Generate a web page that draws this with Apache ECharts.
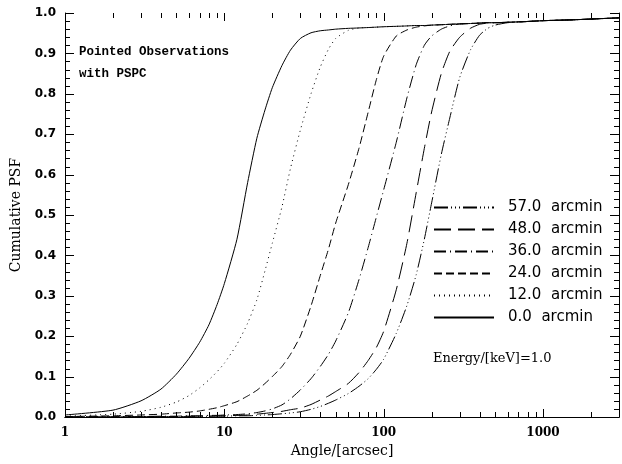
<!DOCTYPE html>
<html>
<head>
<meta charset="utf-8">
<script src="https://cdn.jsdelivr.net/npm/echarts@6/dist/echarts.min.js"></script>
<style>
  html, body { margin: 0; padding: 0; background: #fff; }
  #chart { width: 622px; height: 464px; }
</style>
</head>
<body>
<div id="chart"></div>
<script>
// angle grid in arcsec (shared by all curves)
const angles = [1, 2, 3, 4, 5, 6, 7, 8, 9, 10, 12, 14, 16, 18, 20, 23, 26, 30, 35, 40,
  45, 50, 60, 70, 80, 90, 100, 120, 140, 160, 180, 200, 230, 260, 300, 350, 400, 450,
  500, 600, 800, 1000, 1500, 2000, 3000]

// cumulative PSF per off-axis angle
const psf00 = [.005, .017, .040, .069, .106, .145, .185, .228, .278, .330,
  .440, .580, .690, .760, .815, .870, .908, .937, .951, .956,
  .958, .960, .962, .963, .964, .965, .966, .967, .968, .969,
  .969, .970, .971, .972, .973, .974, .975, .976, .976, .977,
  .979, .981, .983, .985, .988]
const psf12 = [.002, .007, .014, .024, .037, .053, .072, .092, .112, .133,
  .180, .232, .290, .362, .430, .520, .615, .710, .800, .866,
  .910, .937, .957, .963, .964, .965, .966, .967, .968, .969,
  .969, .970, .971, .972, .973, .974, .975, .976, .976, .977,
  .979, .981, .983, .985, .988]
const psf24 = [.001, .003, .005, .007, .010, .012, .015, .019, .023, .028,
  .038, .052, .066, .083, .100, .125, .155, .200, .275, .350,
  .415, .480, .575, .665, .755, .835, .893, .943, .958, .965,
  .968, .970, .971, .972, .973, .974, .975, .976, .976, .977,
  .979, .981, .983, .985, .988]
const psf36 = [.000, .001, .001, .002, .002, .003, .003, .004, .004, .005,
  .006, .008, .011, .015, .020, .030, .045, .067, .095, .125,
  .155, .188, .258, .340, .420, .495, .562, .680, .790, .872,
  .920, .943, .960, .968, .973, .974, .975, .976, .976, .977,
  .979, .981, .983, .985, .988]
const psf48 = [.000, .000, .001, .001, .001, .002, .002, .002, .003, .003,
  .004, .005, .007, .009, .011, .014, .018, .022, .031, .042,
  .052, .063, .083, .110, .140, .172, .212, .315, .430, .555,
  .665, .755, .850, .905, .940, .962, .972, .975, .976, .977,
  .979, .981, .983, .985, .988]
const psf57 = [.000, .000, .000, .001, .001, .001, .001, .002, .002, .002,
  .003, .003, .004, .005, .006, .008, .010, .013, .019, .026,
  .034, .042, .058, .076, .095, .118, .143, .207, .276, .352,
  .440, .530, .650, .740, .840, .908, .945, .962, .970, .976,
  .979, .981, .983, .985, .988]

const offAxis = ['0.0', '12.0', '24.0', '36.0', '48.0', '57.0']
const curves = [psf00, psf12, psf24, psf36, psf48, psf57]
// pgplot-like line styles
const dashes = ['solid', [1, 4], [8, 4], [12, 4, 1, 4], [17, 7], [14, 3, 1, 3, 1, 3, 1, 3]]

// tick values for the frame (drawn on all four sides)
const xTicks = [1, 2, 3, 4, 5, 6, 7, 8, 9, 10, 20, 30, 40, 50, 60, 70, 80, 90,
  100, 200, 300, 400, 500, 600, 700, 800, 900, 1000, 2000, 3000]
const yTicks = [0, .02, .04, .06, .08, .1, .12, .14, .16, .18, .2, .22, .24, .26, .28,
  .3, .32, .34, .36, .38, .4, .42, .44, .46, .48, .5, .52, .54, .56, .58,
  .6, .62, .64, .66, .68, .7, .72, .74, .76, .78, .8, .82, .84, .86, .88,
  .9, .92, .94, .96, .98, 1]

const labelOf = a => a + '  arcmin'

const chart = echarts.init(document.getElementById('chart'), null, { renderer: 'canvas' })

const isDecade = v => Math.abs(Math.log10(v) - Math.round(Math.log10(v))) < 1e-6
const isTenth = v => Math.abs(v * 10 - Math.round(v * 10)) < 1e-6

const lineSeries = curves.map((vals, i) => ({
  name: labelOf(offAxis[i]),
  type: 'line',
  data: angles.map((a, j) => [a, vals[j]]),
  symbol: 'none',
  smooth: 0.2,
  lineStyle: { color: '#000', width: 1, type: dashes[i] },
  itemStyle: { color: '#000' },
  z: 3
}))

const tickStyle = { stroke: '#000', lineWidth: 1 }

// y ticks on left and right, built once from the first item
const yTickLines = api => {
  const out = []
  yTicks.forEach(v => {
    const l = api.coord([1, v])
    const r = api.coord([3000, v])
    const len = isTenth(v) ? 9 : 5
    const y = Math.round(l[1]) + 0.5
    out.push({ type: 'line', shape: { x1: l[0], y1: y, x2: l[0] + len, y2: y }, style: tickStyle })
    out.push({ type: 'line', shape: { x1: r[0], y1: y, x2: r[0] - len, y2: y }, style: tickStyle })
  })
  return out
}

// inward ticks of the whole frame
const tickSeries = {
  type: 'custom',
  silent: true,
  data: xTicks.map(v => [v, 0]),
  renderItem: (params, api) => {
    const v = api.value(0)
    const b = api.coord([v, 0])
    const t = api.coord([v, 1])
    const len = isDecade(v) ? 8 : 5
    const x = Math.round(b[0]) + 0.5
    const children = [
      { type: 'line', shape: { x1: x, y1: b[1], x2: x, y2: b[1] - len }, style: tickStyle },
      { type: 'line', shape: { x1: x, y1: t[1], x2: x, y2: t[1] + len }, style: tickStyle }
    ]
    if (params.dataIndex === 0) children.push(...yTickLines(api))
    return { type: 'group', children: children }
  },
  z: 4
}

const axisLine = () => ({ show: true, lineStyle: { color: '#000', width: 1 } })

const option = {
  animation: false,
  backgroundColor: '#fff',
  grid: { left: 65, right: 3, top: 13, bottom: 47, containLabel: false },
  xAxis: [{
    type: 'log',
    min: 1,
    max: 3000,
    position: 'bottom',
    name: 'Angle/[arcsec]',
    nameLocation: 'middle',
    nameGap: 26,
    nameTextStyle: { fontFamily: 'DejaVu Serif', fontSize: 14, color: '#000' },
    axisLine: axisLine(),
    axisTick: { show: false },
    axisLabel: {
      margin: 10,
      fontFamily: 'DejaVu Serif',
      fontSize: 12,
      fontWeight: 'bold',
      color: '#000',
      formatter: v => isDecade(v) ? String(Math.round(v)) : ''
    },
    splitLine: { show: false }
  }, {
    type: 'log',
    min: 1,
    max: 3000,
    position: 'top',
    axisLine: axisLine(),
    axisTick: { show: false },
    axisLabel: { show: false },
    splitLine: { show: false }
  }],
  yAxis: [{
    type: 'value',
    min: 0,
    max: 1,
    interval: 0.1,
    position: 'left',
    name: 'Cumulative PSF',
    nameLocation: 'middle',
    nameGap: 42,
    nameTextStyle: { fontFamily: 'DejaVu Serif', fontSize: 14, color: '#000' },
    axisLine: axisLine(),
    axisTick: { show: false },
    axisLabel: {
      margin: 9,
      fontFamily: 'DejaVu Sans',
      fontSize: 12,
      fontWeight: 'bold',
      color: '#000',
      formatter: v => v.toFixed(1)
    },
    splitLine: { show: false }
  }, {
    type: 'value',
    min: 0,
    max: 1,
    interval: 0.1,
    position: 'right',
    axisLine: axisLine(),
    axisTick: { show: false },
    axisLabel: { show: false },
    splitLine: { show: false }
  }],
  legend: {
    orient: 'vertical',
    left: 433,
    top: 200,
    padding: 0,
    itemWidth: 60,
    itemHeight: 15,
    itemGap: 7,
    data: offAxis.slice().reverse().map(labelOf),
    itemStyle: { opacity: 0 },
    textStyle: {
      fontFamily: 'DejaVu Sans',
      fontSize: 15,
      color: '#000',
      lineHeight: 15,
      padding: [0, 0, 0, 9]
    }
  },
  graphic: [
    {
      type: 'text', left: 79, top: 45,
      style: { text: 'Pointed Observations', font: 'bold 12.5px "Liberation Mono"', fill: '#000' }
    },
    {
      type: 'text', left: 79, top: 67,
      style: { text: 'with PSPC', font: 'bold 12.5px "Liberation Mono"', fill: '#000' }
    },
    {
      type: 'text', left: 433, top: 352,
      style: { text: 'Energy/[keV]=1.0', font: '13px "DejaVu Serif"', fill: '#000' }
    }
  ],
  series: [...lineSeries, tickSeries]
}

chart.setOption(option)
</script>
</body>
</html>
